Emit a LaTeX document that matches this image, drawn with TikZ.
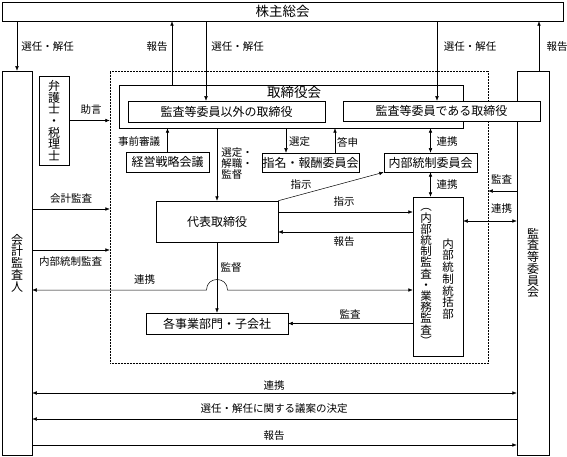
\documentclass[tikz,border=0pt]{standalone}
\usepackage{fontspec}
\setmainfont{Noto Sans CJK JP}
\usetikzlibrary{arrows.meta,shadows}

\begin{document}
\begin{tikzpicture}[x=1pt,y=-1pt,>={Latex[length=4.5pt,width=3.6pt]},line width=0.5pt,
  box/.style={draw,fill=white,inner sep=0pt,align=center,font=\fontsize{12}{11.7}\selectfont,
    drop shadow={shadow xshift=0.8pt,shadow yshift=-0.8pt,fill=black!55,opacity=1}},
  lbl/.style={inner sep=0pt,font=\fontsize{10.5}{11}\selectfont},
  vtxt/.style={inner sep=0pt,align=center,font=\fontsize{11.5}{11.7}\selectfont}]
\useasboundingbox (0,0) rectangle (567,457);
\node[draw,densely dotted,inner sep=0pt,minimum width=378pt,minimum height=292pt](ctl) at (299,217){};
\node[box,minimum width=561pt,minimum height=19pt,font=\fontsize{13.5}{14}\selectfont](gm) at (282.5,11.5){株主総会};
\node[box,minimum width=30pt,minimum height=384pt](acct) at (17,263){会\\計\\監\\査\\人};
\node[box,minimum width=32pt,minimum height=384pt](acm) at (533,263){監\\査\\等\\委\\員\\会};
\node[box,minimum width=30pt,minimum height=89pt](law) at (54,120.5){弁\\護\\士\\・\\税\\理\\士};
\node[box,minimum width=344pt,minimum height=43pt](board) at (291,106.5){};
\node[vtxt,font=\fontsize{13.5}{14}\selectfont](boardt) at (294,92){取締役会};
\node[box,minimum width=197pt,minimum height=21pt](nonac) at (226.5,111.5){監査等委員以外の取締役};
\node[box,minimum width=197pt,minimum height=20pt](acdir) at (441.5,111){監査等委員である取締役};
\node[box,minimum width=83pt,minimum height=20pt](strat) at (167.5,162){経営戦略会議};
\node[box,minimum width=97pt,minimum height=19pt](nomi) at (310.5,162.5){指名・報酬委員会};
\node[box,minimum width=93pt,minimum height=19pt](icc) at (430.5,162.5){内部統制委員会};
\node[box,minimum width=122pt,minimum height=41pt](rep) at (217,221.5){代表取締役};
\node[box,minimum width=50pt,minimum height=159pt](icd) at (438,276.5){};
\node[vtxt](icdr) at (448,279){内\\部\\統\\制\\統\\括\\部};
\node[vtxt,font=\fontsize{11.5}{11.2}\selectfont](icdl) at (426,277){︵\\内\\部\\統\\制\\監\\査\\・\\業\\務\\監\\査\\︶};
\node[box,minimum width=142pt,minimum height=21pt](div) at (217,323.5){各事業部門・子会社};

\draw[->](gm.south -| acct)--(acct.north);
\draw[->](board.north -| 172,0)--(gm.south -| 172,0);
\draw[->](gm.south -| 206,0)--(nonac.north -| 206,0);
\draw[->](gm.south -| 437,0)--(acdir.north -| 437,0);
\draw[->](acm.north -| 539,0)--(gm.south -| 539,0);
\draw[->](law.east)--(law.east -| ctl.west);
\draw[->](acct.east |- 0,209)--(ctl.west |- 0,209);
\draw[->](acct.east |- 0,250)--(ctl.west |- 0,250);
\draw[->](strat.north)--(strat.north |- board.south);
\draw[->](rep.north |- board.south)--(rep.north);
\draw[->](board.south -| 286,0)--(nomi.north -| 286,0);
\draw[->](nomi.north -| 335,0)--(board.south -| 335,0);
\draw[<->](icc.north |- board.south)--(icc.north);
\draw[<->](icc.south)--(icc.south |- icd.north);
\draw[->](rep.north east)--(icc.south west);
\draw[->](rep.east |- 0,212)--(icd.west |- 0,212);
\draw[->](icd.west |- 0,232)--(rep.east |- 0,232);
\draw[->](rep.south)--(div.north);
\draw[<->](acct.east |- 0,290)--(206.5,290) .. controls (206.5,276) and (227.5,276) .. (227.5,290)--(icd.west |- 0,290);
\draw[->](icd.west |- div.east)--(div.east);
\draw[->](acm.west |- 0,191)--(ctl.east |- 0,191);
\draw[<->](icd.east |- 0,221)--(acm.west |- 0,221);
\draw[<->](acct.east |- 0,393)--(acm.west |- 0,393);
\draw[->](acm.west |- 0,419)--(acct.east |- 0,419);
\draw[->](acct.east |- 0,445)--(acm.west |- 0,445);

\node[lbl](l1) at (47.5,47){選任・解任};
\node[lbl](l2) at (157,47){報告};
\node[lbl](l3) at (237.5,47){選任・解任};
\node[lbl](l4) at (470,47){選任・解任};
\node[lbl](l5) at (557,47){報告};
\node[lbl](l6) at (91,110){助言};
\node[lbl](l7) at (139,142){事前審議};
\node[lbl,align=left,anchor=north west](l8) at (221,147){選定・\\解職・\\監督};
\node[lbl](l9) at (299.5,142){選定};
\node[lbl](l10) at (347.5,142){答申};
\node[lbl](l11) at (447,142){連携};
\node[lbl](l12) at (301,185){指示};
\node[lbl](l13) at (447,185){連携};
\node[lbl](l14) at (501.5,179){監査};
\node[lbl](l15) at (501.5,209){連携};
\node[lbl](l16) at (344,202){指示};
\node[lbl](l17) at (344,242){報告};
\node[lbl](l18) at (71,199){会計監査};
\node[lbl](l19) at (70.5,262){内部統制監査};
\node[lbl](l20) at (231,268){監督};
\node[lbl](l21) at (144.5,280){連携};
\node[lbl](l22) at (350,314){監査};
\node[lbl](l23) at (274,386){連携};
\node[lbl](l24) at (274,409){選任・解任に関する議案の決定};
\node[lbl](l25) at (274,436){報告};
\end{tikzpicture}
\end{document}
